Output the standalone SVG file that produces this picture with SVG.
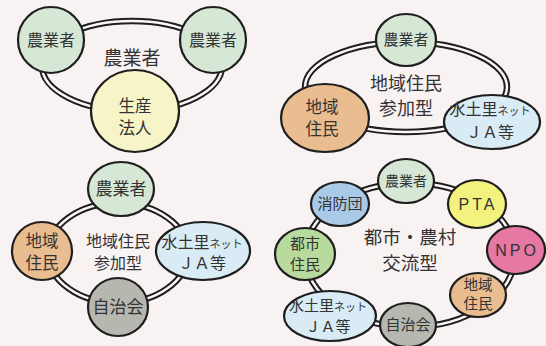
<svg xmlns="http://www.w3.org/2000/svg" width="546" height="346" viewBox="0 0 546 346">
<style>
text{font-family:"Noto Sans CJK JP","Noto Sans",sans-serif;fill:#333;text-anchor:middle}
.n{stroke:#1e1e1e;stroke-width:2.2}
.ro{fill:none;stroke:#1e1e1e;stroke-width:6.5}
.ri{fill:none;stroke:#fbf7f7;stroke-width:2.5}
.g{fill:#d6e7d5}.y{fill:#f7f5c8}.o{fill:#eabd90}.b{fill:#d9ebf4}.gr{fill:#b6b7af}
.bl{fill:#a9c9e8}.py{fill:#f4f27e}.pk{fill:#e678a4}.lg{fill:#b8da9c}
.s{font-size:11px}
.lat{font-family:"Liberation Sans",sans-serif;letter-spacing:3px}
</style>
<rect width="546" height="346" fill="#f9f2f3"/>
<g id="connectors">
<ellipse class="ro" cx="132" cy="66" rx="90" ry="45"/><ellipse class="ri" cx="132" cy="66" rx="90" ry="45"/>
<ellipse class="ro" cx="406" cy="87" rx="101" ry="45"/><ellipse class="ri" cx="406" cy="87" rx="101" ry="45"/>
<ellipse class="ro" cx="118" cy="253" rx="70" ry="50"/><ellipse class="ri" cx="118" cy="253" rx="70" ry="50"/>
<ellipse class="ro" cx="410" cy="255" rx="105" ry="72"/><ellipse class="ri" cx="410" cy="255" rx="105" ry="72"/>
</g>
<g id="p1-center"><text x="132" y="65" font-size="19">農業者</text></g>
<g id="p1-farmer1"><circle class="n g" cx="51" cy="40" r="33"/><text x="51" y="46" font-size="16">農業者</text></g>
<g id="p1-farmer2"><circle class="n g" cx="213" cy="40" r="33"/><text x="213" y="46" font-size="16">農業者</text></g>
<g id="p1-corp"><ellipse class="n y" cx="135" cy="111" rx="44" ry="41"/><text x="135" y="112" font-size="16.5">生産</text><text x="135" y="134" font-size="16.5">法人</text></g>

<g id="p2-center"><text x="406" y="90" font-size="18">地域住民</text><text x="406" y="115" font-size="18">参加型</text></g>
<g id="p2-farmer"><ellipse class="n g" cx="406" cy="40" rx="30" ry="26"/><text x="406" y="45" font-size="15">農業者</text></g>
<g id="p2-resident"><ellipse class="n o" cx="325" cy="118" rx="44" ry="34"/><text x="322" y="113" font-size="16.5">地域</text><text x="322" y="135" font-size="16.5">住民</text></g>
<g id="p2-ja"><ellipse class="n b" cx="492" cy="122" rx="48" ry="27"/><text x="490" y="115" font-size="16">水土里<tspan class="s">ネット</tspan></text><text x="490" y="138" font-size="16">ＪＡ等</text></g>

<g id="p3-center"><text x="118" y="247" font-size="16">地域住民</text><text x="118" y="269" font-size="16">参加型</text></g>
<g id="p3-farmer"><ellipse class="n g" cx="121" cy="189" rx="33" ry="27"/><text x="121" y="195" font-size="17">農業者</text></g>
<g id="p3-resident"><ellipse class="n o" cx="42" cy="251" rx="30" ry="29"/><text x="42" y="247" font-size="16.5">地域</text><text x="42" y="269" font-size="16.5">住民</text></g>
<g id="p3-ja"><ellipse class="n b" cx="203" cy="251" rx="47" ry="29"/><text x="202" y="248" font-size="16">水土里<tspan class="s">ネット</tspan></text><text x="202" y="269" font-size="16">ＪＡ等</text></g>
<g id="p3-council"><ellipse class="n gr" cx="118" cy="307" rx="30" ry="29"/><text x="118" y="313" font-size="17">自治会</text></g>

<g id="p4-center"><text x="410" y="244" font-size="18.5">都市・農村</text><text x="410" y="270" font-size="18.5">交流型</text></g>
<g id="p4-farmer"><ellipse class="n g" cx="406" cy="181" rx="28" ry="22"/><text x="406" y="186" font-size="14">農業者</text></g>
<g id="p4-fire"><ellipse class="n bl" cx="340" cy="204" rx="29" ry="22"/><text x="340" y="209" font-size="15">消防団</text></g>
<g id="p4-pta"><ellipse class="n py" cx="477" cy="204" rx="29" ry="24"/><text class="lat" x="478" y="210" font-size="16">PTA</text></g>
<g id="p4-npo"><ellipse class="n pk" cx="516" cy="250" rx="29" ry="24"/><text class="lat" x="517" y="256" font-size="16">NPO</text></g>
<g id="p4-resident"><ellipse class="n o" cx="478" cy="295" rx="28" ry="22"/><text x="478" y="290" font-size="14.5">地域</text><text x="478" y="309" font-size="14.5">住民</text></g>
<g id="p4-council"><ellipse class="n gr" cx="408" cy="325" rx="28" ry="22"/><text x="408" y="330" font-size="15">自治会</text></g>
<g id="p4-ja"><ellipse class="n b" cx="330" cy="316" rx="46" ry="25"/><text x="328" y="311" font-size="15">水土里<tspan class="s">ネット</tspan></text><text x="328" y="332" font-size="15">ＪＡ等</text></g>
<g id="p4-city"><ellipse class="n lg" cx="305" cy="254" rx="30" ry="26"/><text x="305" y="249" font-size="15">都市</text><text x="305" y="270" font-size="15">住民</text></g>
</svg>
